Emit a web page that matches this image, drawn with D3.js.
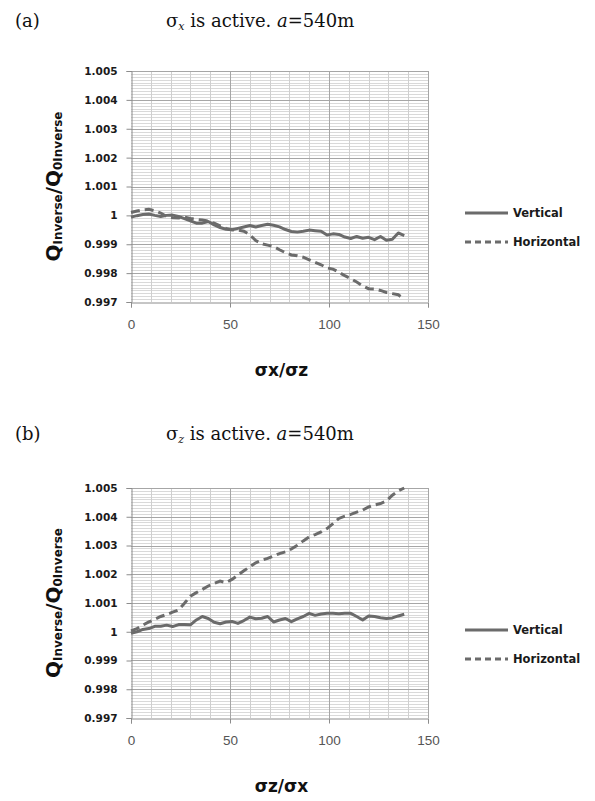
<!DOCTYPE html>
<html><head><meta charset="utf-8">
<script src="https://cdn.jsdelivr.net/npm/d3@7"></script>
<style>body{margin:0;background:#fff}</style>
</head><body>
<script>
// ---------- data ----------
const xValues = [0,3,6,9,12,15,18,21,24,27,30,33,36,39,42,45,48,51,54,57,60,63,66,69,72,75,78,81,84,87,90,93,96,99,102,105,108,111,114,117,120,123,126,129,132,135,138];

const verticalA = [0.99994,0.99999,1.00003,1.00005,1.0000,0.99996,1.0000,1.00001,0.99996,0.99989,0.99981,0.99973,0.99973,0.99979,0.99967,0.99958,0.99952,0.9995,0.99955,0.9996,0.99965,0.9996,0.99965,0.99969,0.99966,0.9996,0.99951,0.99944,0.99942,0.99945,0.99949,0.99947,0.99945,0.99932,0.99936,0.99934,0.99925,0.9992,0.99927,0.99921,0.99924,0.99916,0.99927,0.99914,0.99917,0.99939,0.9993];
const horizontalA = [1.0001,1.00015,1.00019,1.00021,1.00016,1.00008,0.99996,0.99992,0.99991,0.99994,0.99989,0.99986,0.99984,0.9998,0.99973,0.99964,0.99955,0.9995,0.99949,0.99945,0.99933,0.99913,0.99902,0.99897,0.99892,0.99881,0.99871,0.99863,0.9986,0.99855,0.99846,0.99837,0.99829,0.99818,0.99814,0.99803,0.99791,0.99781,0.99769,0.99756,0.99746,0.99745,0.9974,0.99733,0.99729,0.99725,0.9971];

const verticalB = [0.99995,1.0000,1.00008,1.00011,1.00019,1.00019,1.00023,1.00018,1.00025,1.00025,1.00024,1.00041,1.00053,1.00046,1.00033,1.00028,1.00034,1.00036,1.00029,1.00039,1.00051,1.00045,1.00047,1.00053,1.00034,1.00041,1.00046,1.00035,1.00045,1.00053,1.00064,1.00057,1.00062,1.00064,1.00064,1.00063,1.00064,1.00064,1.00053,1.00041,1.00055,1.00053,1.00049,1.00046,1.00048,1.00055,1.00061];
const horizontalB = [1.00003,1.00011,1.00023,1.00034,1.00043,1.00053,1.0006,1.00068,1.00076,1.00099,1.00124,1.00136,1.00147,1.00159,1.00168,1.00176,1.00171,1.00182,1.00197,1.00212,1.00226,1.0024,1.00249,1.00255,1.00263,1.00272,1.00278,1.00288,1.00301,1.00316,1.0033,1.00338,1.00347,1.00359,1.00376,1.00394,1.00402,1.00408,1.00416,1.00423,1.00434,1.00441,1.00446,1.00455,1.00475,1.0049,1.005];

const yTicks = [0.997,0.998,0.999,1.000,1.001,1.002,1.003,1.004,1.005];
const yTickLabels = ["0.997","0.998","0.999","1","1.001","1.002","1.003","1.004","1.005"];
const xTicks = [0,50,100,150];
const seriesNames = ["Vertical","Horizontal"];

const panels = [
  {letter:"(a)", sigma:"x", top:71, bottom:302, titleY:27, xTitle:["σx","/","σz"], v:verticalA, h:horizontalA},
  {letter:"(b)", sigma:"z", top:488, bottom:718, titleY:440, xTitle:["σz","/","σx"], v:verticalB, h:horizontalB}
];

// ---------- drawing ----------
const W = 595, H = 801;
const svg = d3.select("body").append("svg").attr("width", W).attr("height", H);
const left = 131, right = 428;
const lineColor = "#6b6b6b";

panels.forEach(p => {
  const g = svg.append("g");
  const x = d3.scaleLinear().domain([0,150]).range([left,right]);
  const y = d3.scaleLinear().domain([0.997,1.005]).range([p.bottom,p.top]);

  // minor horizontal grid every 0.0001
  const minorY = d3.range(0,81).map(i => 0.997 + i*0.0001).filter((v,i)=> i%10!==0);
  g.append("g").selectAll("line").data(minorY).join("line")
    .attr("x1", left).attr("x2", right)
    .attr("y1", d=>Math.round(y(d))+0.5).attr("y2", d=>Math.round(y(d))+0.5)
    .attr("stroke","#d9d9d9").attr("stroke-width",1);
  // minor vertical every 10
  const minorX = d3.range(10,150,10).filter(v=>v%50!==0);
  g.append("g").selectAll("line").data(minorX).join("line")
    .attr("x1", d=>Math.round(x(d))+0.5).attr("x2", d=>Math.round(x(d))+0.5)
    .attr("y1", p.top).attr("y2", p.bottom)
    .attr("stroke","#cfcfcf").attr("stroke-width",1);
  // major horizontal
  g.append("g").selectAll("line").data(yTicks.slice(1)).join("line")
    .attr("x1", left).attr("x2", right)
    .attr("y1", d=>Math.round(y(d))+0.5).attr("y2", d=>Math.round(y(d))+0.5)
    .attr("stroke","#a6a6a6").attr("stroke-width",1);
  // major vertical
  g.append("g").selectAll("line").data([50,100,150]).join("line")
    .attr("x1", d=>Math.round(x(d))+0.5).attr("x2", d=>Math.round(x(d))+0.5)
    .attr("y1", p.top).attr("y2", p.bottom)
    .attr("stroke","#a6a6a6").attr("stroke-width",1);

  // axes
  const yAxis = d3.axisLeft(y).tickValues(yTicks).tickSize(5).tickFormat((d,i)=>yTickLabels[i]);
  const ya = g.append("g").attr("transform",`translate(${left+0.5},0)`).call(yAxis);
  ya.select(".domain").attr("stroke","#8c8c8c");
  ya.selectAll(".tick line").attr("stroke","#8c8c8c");
  ya.selectAll("text").attr("x",-14).attr("font-family","'DejaVu Sans', sans-serif")
    .attr("font-weight","bold").attr("font-size","10.5px").attr("fill","#1a1a1a");

  const xAxis = d3.axisBottom(x).tickValues(xTicks).tickSize(5).tickFormat(d3.format("d"));
  const xa = g.append("g").attr("transform",`translate(0,${p.bottom+0.5})`).call(xAxis);
  xa.select(".domain").attr("stroke","#8c8c8c");
  xa.selectAll(".tick line").attr("stroke","#8c8c8c");
  xa.selectAll("text").attr("y",17).attr("font-family","'Liberation Sans', Arial, sans-serif")
    .attr("font-size","13.5px").attr("fill","#555");

  // lines
  const line = d3.line().x((d,i)=>x(xValues[i])).y(d=>y(d));
  g.append("path").datum(p.v).attr("d",line).attr("fill","none")
    .attr("stroke",lineColor).attr("stroke-width",3).attr("stroke-linejoin","round");
  g.append("path").datum(p.h).attr("d",line).attr("fill","none")
    .attr("stroke",lineColor).attr("stroke-width",3).attr("stroke-dasharray","9,5");

  // legend
  const lg = g.append("g");
  [[seriesNames[0], null, p.top+142],[seriesNames[1],"6,4", p.top+171]].forEach(([name,dash,ly])=>{
    lg.append("line").attr("x1",465).attr("x2",508).attr("y1",ly).attr("y2",ly)
      .attr("stroke",lineColor).attr("stroke-width",3).attr("stroke-dasharray",dash);
    lg.append("text").attr("x",513).attr("y",ly+4).text(name)
      .attr("font-family","'DejaVu Sans', sans-serif").attr("font-weight","bold")
      .attr("font-size","11.5px").attr("fill","#1a1a1a");
  });

  // y axis title
  const yt = g.append("text").attr("transform",`translate(60,${(p.top+p.bottom)/2}) rotate(-90)`)
    .attr("text-anchor","middle").attr("font-family","'DejaVu Sans', sans-serif")
    .attr("font-weight","bold").attr("fill","#111");
  yt.append("tspan").attr("font-size","20px").text("Q");
  yt.append("tspan").attr("font-size","12px").attr("dy",2).text("Inverse");
  yt.append("tspan").attr("font-size","20px").attr("dy",-2).text("/Q");
  yt.append("tspan").attr("font-size","12px").attr("dy",2).text("0Inverse");

  // x axis title
  g.append("text").attr("x",(left+right)/2+2).attr("y",p.bottom+74).attr("text-anchor","middle")
    .attr("font-family","'DejaVu Sans', sans-serif").attr("font-weight","bold")
    .attr("font-size","17px").attr("fill","#111").text(p.xTitle.join(""));

  // panel letter and heading
  const serif = "'DejaVu Serif', 'Liberation Serif', serif";
  g.append("text").attr("x",15).attr("y",p.titleY).text(p.letter)
    .attr("font-family",serif).attr("font-size","18px").attr("fill","#111");
  const t = g.append("text").attr("x",166).attr("y",p.titleY)
    .attr("font-family",serif).attr("font-size","18px").attr("fill","#111");
  t.append("tspan").text("σ");
  t.append("tspan").attr("font-size","11px").attr("font-style","italic").attr("dy",3).text(p.sigma);
  t.append("tspan").attr("dy",-3).text(" is active. ");
  t.append("tspan").attr("font-style","italic").text("a");
  t.append("tspan").text("=540m");
});
</script>
</body></html>
